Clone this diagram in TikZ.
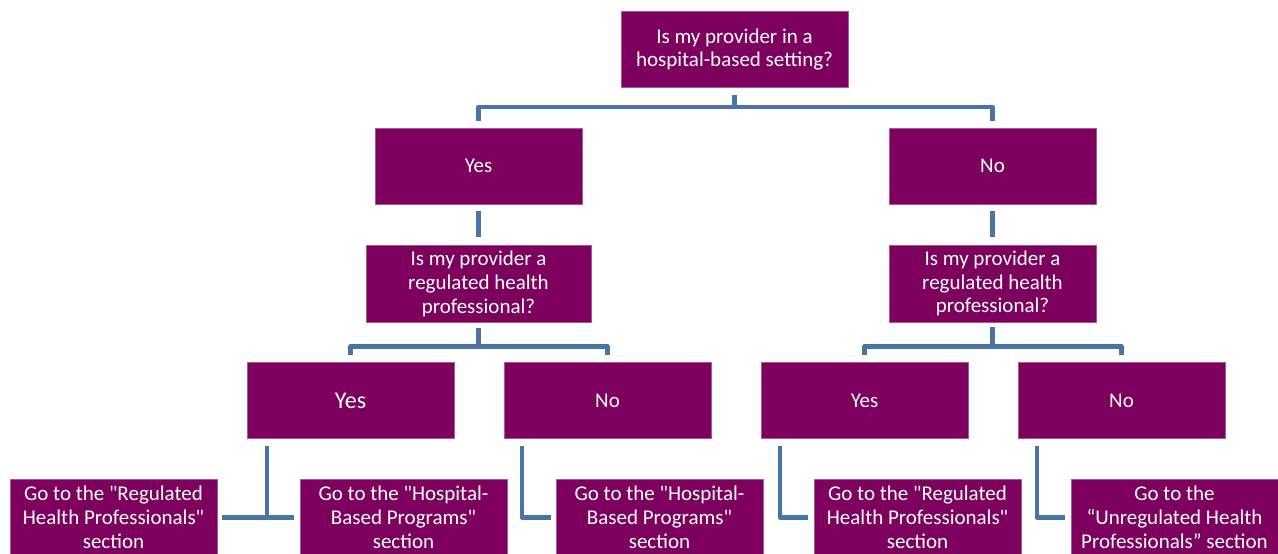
\documentclass[tikz,border=0pt]{standalone}
\usepackage{fontspec}
\setmainfont{Carlito}[Ligatures=TeXOff]
\definecolor{plum}{RGB}{125,0,94}
\definecolor{plumedge}{RGB}{170,90,150}
\definecolor{linkblue}{RGB}{72,116,170}
\begin{document}
\begin{tikzpicture}[x=1pt,y=-1pt,
	box/.style={fill=plum,draw=plumedge,line width=0.5pt,text=white,minimum width=207pt,minimum height=76pt,
		inner sep=0pt,align=center,font=\fontsize{21}{23.8}\selectfont},
	link/.style={draw=linkblue,line width=4.5pt,line join=round}]
		\useasboundingbox (0,0) rectangle (1278,554);
		% question boxes
		\node[box,minimum width=227pt] (top) at (734.5,49.5) {Is my provider in a\\hospital-based setting?};
		\node[box] (yes) at (478.5,166) {Yes};
		\node[box] (no) at (992.5,166) {No};
		\node[box,minimum width=225pt,minimum height=77pt] (qyes) at (478.5,284) {Is my provider a\\regulated health\\professional?};
		\node[box,minimum height=77pt] (qno) at (992.5,283.5) {Is my provider a\\regulated health\\professional?};
		% answers
		\node[box,font=\fontsize{24}{28}\selectfont] (yesyes) at (350.5,400.5) {Yes};
		\node[box] (yesno) at (607.5,400.5) {No};
		\node[box] (noyes) at (864.5,400.5) {Yes};
		\node[box] (nono) at (1121.5,400.5) {No};
		% sections
		\node[box] (reg1) at (113.5,517.5) {Go to the "Regulated\\Health Professionals"\\section};
		\node[box] (hosp1) at (403.5,517.5) {Go to the "Hospital-\\Based Programs"\\section};
		\node[box] (hosp2) at (659.5,517.5) {Go to the "Hospital-\\Based Programs"\\section};
		\node[box] (reg2) at (917.5,517.5) {Go to the "Regulated\\Health Professionals"\\section};
		\node[box] (unreg) at (1174.5,517.5) {Go to the\\“Unregulated Health\\Professionals” section};
		% connectors
		\draw[link] ([yshift=7pt]yes.north) -- ++(0,-14) -| ([yshift=-7pt]top.south);
		\draw[link] ([yshift=7pt]no.north) -- ++(0,-14) -| ([yshift=-7pt]top.south);
		\draw[link] ([yshift=-7pt]yes.south) -- ([yshift=8pt]qyes.north);
		\draw[link] ([yshift=-7pt]no.south) -- ([yshift=8pt]qno.north);
		\draw[link] ([yshift=7pt]yesyes.north) -- ++(0,-9) -| ([yshift=-5pt]qyes.south);
		\draw[link] ([yshift=7pt]yesno.north) -- ++(0,-9) -| ([yshift=-5pt]qyes.south);
		\draw[link] ([yshift=7pt]noyes.north) -- ++(0,-9) -| ([yshift=-5pt]qno.south);
		\draw[link] ([yshift=7pt]nono.north) -- ++(0,-9) -| ([yshift=-5pt]qno.south);
		\draw[link] ([xshift=20pt,yshift=-7pt]yesyes.south west) |- ([xshift=-6pt]hosp1.west);
		\draw[link] ([xshift=5pt]reg1.east) -- ([xshift=-6pt]hosp1.west);
		\draw[link] ([xshift=18pt,yshift=-7pt]yesno.south west) |- ([xshift=-5pt]hosp2.west);
		\draw[link] ([xshift=19pt,yshift=-7pt]noyes.south west) |- ([xshift=-6pt]reg2.west);
		\draw[link] ([xshift=19pt,yshift=-7pt]nono.south west) |- ([xshift=-6pt]unreg.west);
\end{tikzpicture}
\end{document}
